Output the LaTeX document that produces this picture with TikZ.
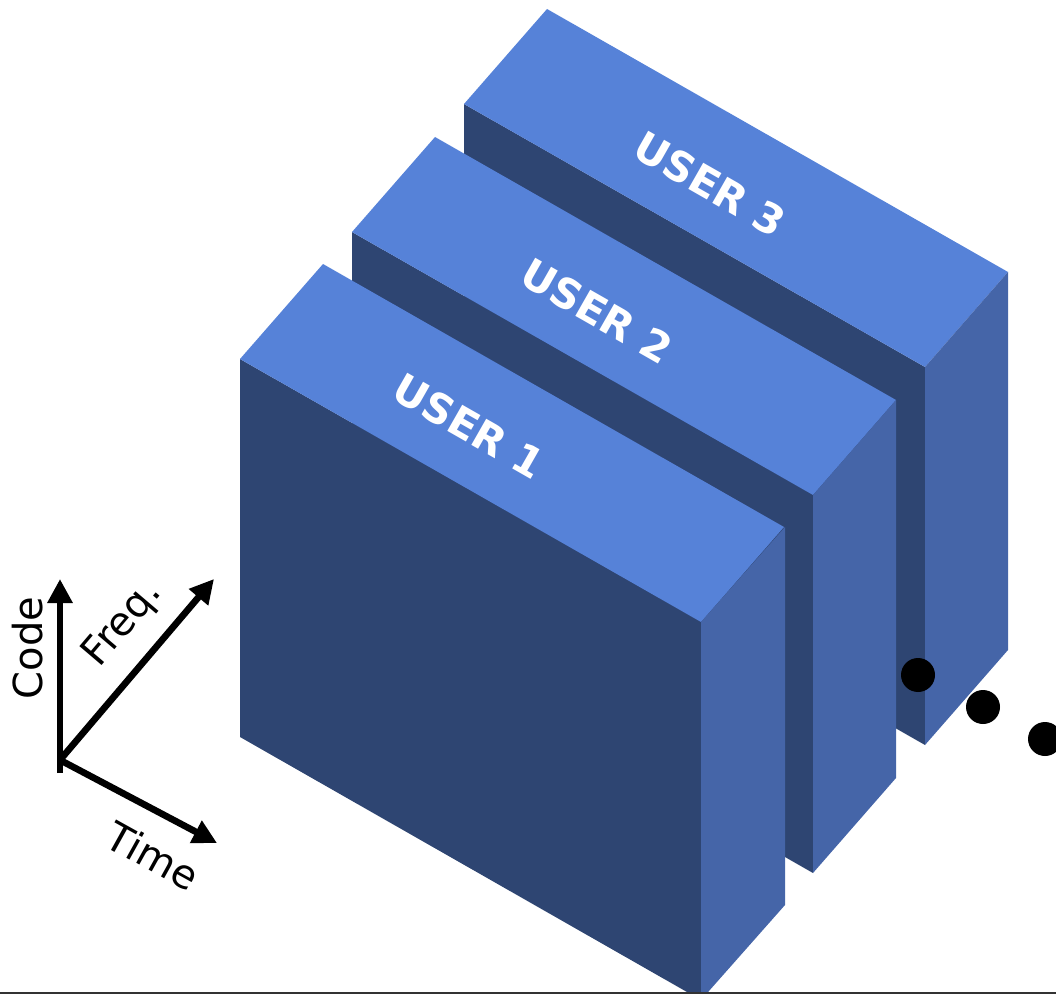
\documentclass[tikz,border=0pt]{standalone}
\usepackage{fontspec}
\setmainfont{DejaVu Sans}
\usetikzlibrary{arrows.meta}

\definecolor{topblue}{HTML}{5682D8}
\definecolor{frontblue}{HTML}{2E4572}
\definecolor{sideblue}{HTML}{4565A8}

\tikzset{
    topface/.style={fill=topblue},
    frontface/.style={fill=frontblue},
    sideface/.style={fill=sideblue},
    userlabel/.style={text=white, font=\bfseries\fontsize{31}{31}\selectfont, rotate=-29.7},
    axis/.style={-{Triangle[length=18pt, width=18pt]}, line width=5pt},
    axislabel/.style={font=\fontsize{30}{30}\selectfont},
}

\begin{document}
\begin{tikzpicture}[x=0.75pt, y=-0.75pt]
        \useasboundingbox (0,0) rectangle (1056,994);
        \clip (0,0) rectangle (1056,994);

        % back slab
        \fill[frontface] (464,104) -- ++(461,263) -- ++(0,378) -- ++(-461,-263) -- cycle;
        \fill[topface] (464,104) -- ++(83,-95) -- ++(461,263) -- ++(-83,95) -- cycle;
        \fill[sideface] (925,367) -- ++(83,-95) -- ++(0,378) -- ++(-83,95) -- cycle;
        \node[userlabel] (user3) at (710,184) {USER 3};

        % middle slab
        \fill[frontface] (352,232) -- ++(461,263) -- ++(0,378) -- ++(-461,-263) -- cycle;
        \fill[topface] (352,232) -- ++(83,-95) -- ++(461,263) -- ++(-83,95) -- cycle;
        \fill[sideface] (813,495) -- ++(83,-95) -- ++(0,378) -- ++(-83,95) -- cycle;
        \node[userlabel] (user2) at (597,311) {USER 2};

        % front slab
        \fill[frontface] (240,359) -- ++(461,263) -- ++(0,378) -- ++(-461,-263) -- cycle;
        \fill[topface] (240,359) -- ++(83,-95) -- ++(461,263) -- ++(-83,95) -- cycle;
        \fill[sideface] (701,622) -- ++(84,-95) -- ++(0,378) -- ++(-84,95) -- cycle;
        \node[userlabel] (user1) at (469,426) {USER 1};

        % more users
        \fill[black] (918,675) circle (12.75pt);
        \fill[black] (983,707) circle (12.75pt);
        \fill[black] (1045,739) circle (12.75pt);

        % axes
        \coordinate (origin) at (60,760);
        \coordinate (codefoot) at (60,773);
        \coordinate (codetip) at (60,579);
        \coordinate (freqtip) at (214,579);
        \coordinate (timetip) at (217,843);
        \draw[axis] (codefoot) -- (codetip);
        \draw[axis] (origin) -- (freqtip);
        \draw[axis] (origin) -- (timetip);
        \node[axislabel, rotate=90] (code) at (28,648) {Code};
        \node[axislabel, rotate=49.6] (freq) at (123,624) {Freq.};
        \node[axislabel, rotate=-29] (time) at (153,856) {Time};

        \draw[line width=1.5pt, black!80] (0,993) -- (1056,993);
    \end{tikzpicture}
\end{document}
